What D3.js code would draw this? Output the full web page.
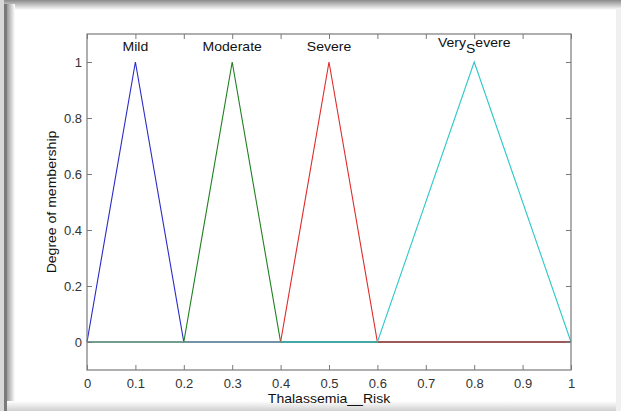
<!DOCTYPE html>
<html>
<head>
<meta charset="utf-8">
<script src="https://cdn.jsdelivr.net/npm/d3@7/dist/d3.min.js"></script>
<style>
  body { margin: 0; background: #fff; }
  text { font-family: "Liberation Sans", Arial, sans-serif; }
</style>
</head>
<body>
<script>
'use strict';

// membership function names and triangle params [a, b, c]
const mfNames = ["Mild", "Moderate", "Severe", "Very_Severe"];
const mfParams = [[0, 0.1, 0.2], [0.2, 0.3, 0.4], [0.4, 0.5, 0.6], [0.6, 0.8, 1.0]];
const mfColors = ["#2a2ac8", "#1f7f1f", "#e02a2a", "#2ec8c8"];

const xTicks = [0, 0.1, 0.2, 0.3, 0.4, 0.5, 0.6, 0.7, 0.8, 0.9, 1];
const yTicks = [0, 0.2, 0.4, 0.6, 0.8, 1];

const xDomain = [0, 1];
const yDomain = [-0.1, 1.1];

(function () {
    const W = 621, H = 411;
    const svg = d3.select('body').append('svg')
        .attr('width', W)
        .attr('height', H);

    // frame / shadow around the figure
    const defs = svg.append('defs');
    let g1 = defs.append('linearGradient').attr('id', 'topShade')
        .attr('x1', 0).attr('y1', 0).attr('x2', 0).attr('y2', 1);
    g1.append('stop').attr('offset', 0).attr('stop-color', '#8a8a8a');
    g1.append('stop').attr('offset', 1).attr('stop-color', '#ffffff');
    let g2 = defs.append('linearGradient').attr('id', 'leftShade')
        .attr('x1', 0).attr('y1', 0).attr('x2', 1).attr('y2', 0);
    g2.append('stop').attr('offset', 0).attr('stop-color', '#9a9a9a');
    g2.append('stop').attr('offset', 1).attr('stop-color', '#ffffff');
    let g3 = defs.append('linearGradient').attr('id', 'botShade')
        .attr('x1', 0).attr('y1', 0).attr('x2', 0).attr('y2', 1);
    g3.append('stop').attr('offset', 0).attr('stop-color', '#ffffff');
    g3.append('stop').attr('offset', 1).attr('stop-color', '#d0d0d0');

    svg.append('rect').attr('width', W).attr('height', H).attr('fill', '#fff');
    svg.append('rect').attr('x', 0).attr('y', 0).attr('width', W).attr('height', 10)
        .attr('fill', 'url(#topShade)');
    svg.append('rect').attr('x', 0).attr('y', 0).attr('width', 4).attr('height', H)
        .attr('fill', '#d8d8d8');
    svg.append('rect').attr('x', 4).attr('y', 4).attr('width', 3).attr('height', H - 4)
        .attr('fill', '#7a7a7a');
    svg.append('rect').attr('x', 7).attr('y', 4).attr('width', 8).attr('height', H - 4)
        .attr('fill', 'url(#leftShade)');
    svg.append('rect').attr('x', 7).attr('y', 401).attr('width', W - 7).attr('height', 10)
        .attr('fill', 'url(#botShade)');
    svg.append('rect').attr('x', 616).attr('y', 8).attr('width', 5).attr('height', H - 8)
        .attr('fill', '#f0f0f0');

    // plot area
    const left = 87, right = 571, top = 34, bottom = 370;
    const x = d3.scaleLinear().domain(xDomain).range([left, right]);
    const y = d3.scaleLinear().domain(yDomain).range([bottom, top]);

    const axisColor = '#7a7a7a';
    const tickLen = 5;
    const stretch = 'scale(1.08,1)';

    // curves
    const line = d3.line().x(d => x(d[0])).y(d => y(d[1]));
    mfParams.forEach((p, i) => {
        const pts = [[xDomain[0], 0], [p[0], 0], [p[1], 1], [p[2], 0], [xDomain[1], 0]];
        svg.append('path')
            .attr('d', line(pts))
            .attr('fill', 'none')
            .attr('stroke', mfColors[i])
            .attr('stroke-width', 1.1);
    });

    // box
    svg.append('rect')
        .attr('x', left).attr('y', top)
        .attr('width', right - left).attr('height', bottom - top)
        .attr('fill', 'none')
        .attr('stroke', axisColor)
        .attr('stroke-width', 1.2);

    // bottom axis
    const xAxis = d3.axisBottom(x).tickValues(xTicks).tickSizeInner(-tickLen).tickSizeOuter(0)
        .tickPadding(9).tickFormat(d3.format('~g'));
    const gx = svg.append('g').attr('transform', `translate(0,${bottom})`).call(xAxis);
    // top ticks
    const gxt = svg.append('g').attr('transform', `translate(0,${top})`)
        .call(d3.axisTop(x).tickValues(xTicks).tickSizeInner(-tickLen).tickSizeOuter(0).tickFormat(''));
    // left axis
    const yAxis = d3.axisLeft(y).tickValues(yTicks).tickSizeInner(-tickLen).tickSizeOuter(0)
        .tickPadding(5).tickFormat(d3.format('~g'));
    const gy = svg.append('g').attr('transform', `translate(${left},0)`).call(yAxis);
    const gyr = svg.append('g').attr('transform', `translate(${right},0)`)
        .call(d3.axisRight(y).tickValues(yTicks).tickSizeInner(-tickLen).tickSizeOuter(0).tickFormat(''));

    [gx, gxt, gy, gyr].forEach(g => {
        g.select('.domain').remove();
        g.selectAll('line').attr('stroke', axisColor);
        g.selectAll('text')
            .attr('fill', '#333')
            .style('font-size', '13px')
            .style('font-family', '"Liberation Sans", Arial, sans-serif');
    });

    // membership labels above the peaks
    mfNames.forEach((name, i) => {
        const peak = mfParams[i][1];
        const parts = name.split('_');
        const t = svg.append('text')
            .attr('text-anchor', 'middle')
            .style('font-size', '13px')
            .attr('fill', '#111');
        if (parts.length === 1) {
            t.attr('transform', `translate(${x(peak)},51)${stretch}`).text(name);
        } else {
            // MATLAB tex interprets "_" as subscript of next char
            t.attr('transform', `translate(${x(peak)},47)${stretch}`);
            t.append('tspan').text(parts[0]);
            t.append('tspan').attr('dy', 6).text(parts[1].charAt(0));
            t.append('tspan').attr('dy', -6).text(parts[1].slice(1));
        }
    });

    // axis labels
    svg.append('text')
        .attr('transform', `translate(${(left + right) / 2},403)${stretch}`)
        .attr('text-anchor', 'middle')
        .style('font-size', '13px')
        .attr('fill', '#111')
        .text('Thalassemia__Risk');

    svg.append('text')
        .attr('transform', `translate(56,${(top + bottom) / 2})rotate(-90)${stretch}`)
        .attr('text-anchor', 'middle')
        .style('font-size', '13px')
        .attr('fill', '#111')
        .text('Degree of membership');
})();
</script>
</body>
</html>
